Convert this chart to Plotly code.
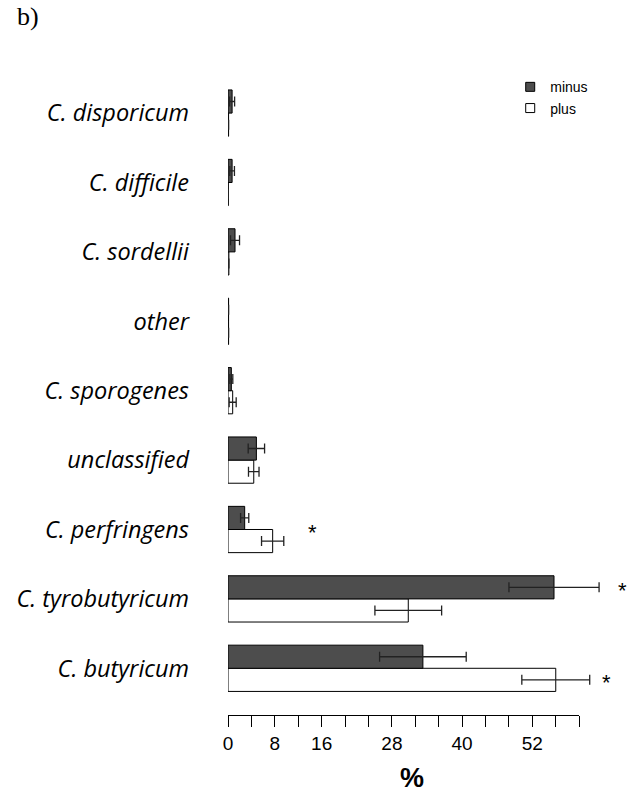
import plotly.graph_objects as go

# categories bottom -> top
categories = ["C. butyricum", "C. tyrobutyricum", "C. perfringens", "unclassified",
              "C. sporogenes", "other", "C. sordellii", "C. difficile", "C. disporicum"]
minus_vals = [33.3, 55.7, 2.85, 4.85, 0.57, 0.1, 1.2, 0.7, 0.7]
minus_err = [7.4, 7.7, 0.7, 1.4, 0.25, 0.0, 0.77, 0.4, 0.43]
plus_vals = [56.0, 30.8, 7.63, 4.4, 0.8, 0.1, 0.15, 0.05, 0.1]
plus_err = [5.8, 5.7, 1.9, 0.9, 0.6, 0.0, 0.0, 0.0, 0.0]

tick_vals = [0, 4, 8, 12, 16, 20, 24, 28, 32, 36, 40, 44, 48, 52, 56, 60]
tick_text = ["0", "", "8", "", "16", "", "", "28", "", "", "40", "", "", "52", "", ""]
axis_max = 60
view_max = 68

# significance markers: (x in %, category index, offset within group)
stars = [(14.4, 2, 0.0), (67.4, 1, 1 / 6), (64.7, 0, -1 / 6)]

fig = go.Figure()
err_style = dict(type="data", color="#222222", thickness=1.3, width=5)
fig.add_trace(go.Bar(
    y=list(range(len(categories))), x=plus_vals, orientation="h", name="plus",
    marker=dict(color="white", line=dict(color="black", width=1)),
    error_x=dict(array=plus_err, **err_style), showlegend=False,
))
fig.add_trace(go.Bar(
    y=list(range(len(categories))), x=minus_vals, orientation="h", name="minus",
    marker=dict(color="#4D4D4D", line=dict(color="black", width=1)),
    error_x=dict(array=minus_err, **err_style), showlegend=False,
))
# legend proxies
fig.add_trace(go.Scatter(x=[None], y=[None], mode="markers", name="minus",
                         marker=dict(symbol="square", size=9, color="#4D4D4D",
                                     line=dict(color="black", width=1))))
fig.add_trace(go.Scatter(x=[None], y=[None], mode="markers", name="plus",
                         marker=dict(symbol="square", size=9, color="white",
                                     line=dict(color="black", width=1))))
# carrier for the visible (shorter) x axis
fig.add_trace(go.Scatter(x=[None], y=[None], xaxis="x2", yaxis="y", mode="markers",
                         showlegend=False, hoverinfo="skip"))

for sx, si, so in stars:
    fig.add_annotation(x=sx, y=si + so, xref="x", yref="y", text="*", showarrow=False,
                       font=dict(family="Liberation Sans", size=22, color="black"),
                       yshift=-3)

fig.add_annotation(x=(15 - 228) / 398.4, y=1.12, xref="paper", yref="paper", text="b)",
                   showarrow=False, xanchor="left", yanchor="top",
                   font=dict(family="Liberation Serif", size=26, color="black"))
fig.add_annotation(x=(412.5 - 228) / 398.4, y=-0.099, xref="paper", yref="paper",
                   text="<b>%</b>", showarrow=False, xanchor="center", yanchor="middle",
                   font=dict(family="Liberation Sans", size=27, color="black"))

fig.update_layout(
    width=638, height=798,
    margin=dict(l=228, r=11.6, t=77, b=83),
    paper_bgcolor="white", plot_bgcolor="rgba(0,0,0,0)",
    barmode="group", bargap=1 / 3, bargroupgap=0,
    showlegend=True,
    legend=dict(x=(510.5 - 228) / 398.4, y=1.009, xanchor="left", yanchor="top",
                font=dict(family="Liberation Sans", size=14, color="black"),
                bgcolor="rgba(0,0,0,0)", tracegroupgap=0),
    xaxis=dict(range=[0, view_max], visible=False, showgrid=False, zeroline=False),
    xaxis2=dict(range=[0, axis_max], domain=[0, axis_max / view_max], anchor="y",
                tickvals=tick_vals, ticktext=tick_text,
                showline=True, linecolor="black", linewidth=1,
                ticks="outside", ticklen=11, tickcolor="black", tickwidth=1,
                showgrid=False, zeroline=False,
                tickfont=dict(family="Liberation Sans", size=19, color="black")),
    yaxis=dict(range=[-0.673, 8.52], tickvals=list(range(len(categories))),
               ticktext=categories, showline=False, showgrid=False, zeroline=False,
               ticks="", ticklabelstandoff=38,
               tickfont=dict(family="Open Sans", size=23.5, color="black", style="italic")),
)

fig.write_html("out.html")
